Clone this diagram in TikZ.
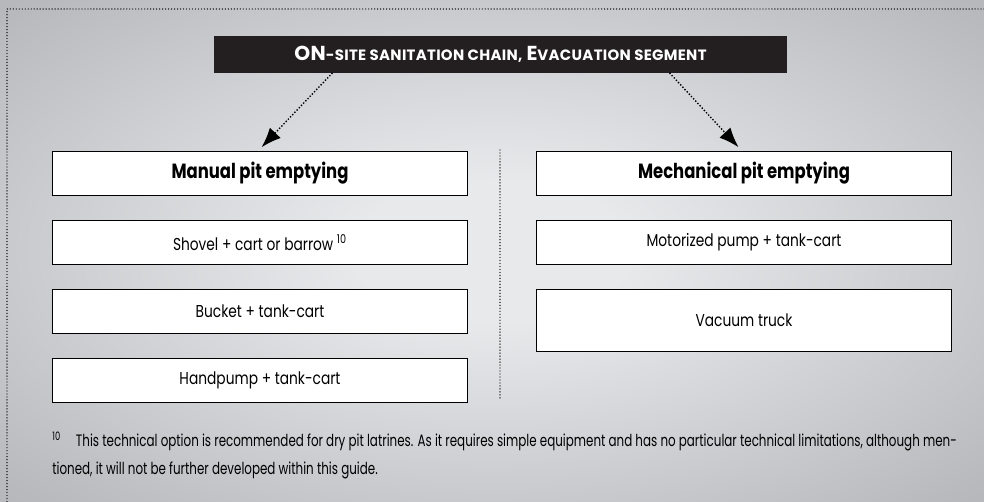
\documentclass[tikz,border=0pt]{standalone}
\usepackage{fontspec}
\setmainfont[FakeStretch=0.8]{Poppins}
\newfontfamily\titlefont[LetterSpace=2]{Poppins}
\newfontfamily\notefont[FakeStretch=0.72]{Poppins}
\usetikzlibrary{positioning,arrows.meta}

\definecolor{bglight}{HTML}{E8E9EB}
\definecolor{bgdark}{HTML}{A8A9AD}
\definecolor{titlebg}{HTML}{231F20}
\pgfdeclareradialshading{bgshade}{\pgfpoint{0bp}{0bp}}{color(0bp)=(bglight); color(7bp)=(bglight); color(34bp)=(bgdark!75!bglight); color(50bp)=(bgdark)}

\newcommand{\capbig}[1]{{\fontsize{11.5}{13}\selectfont #1}}
\newcommand{\capsmall}[1]{{\fontsize{8.5}{13}\selectfont #1}}

\begin{document}
\begin{tikzpicture}[x=0.02cm,y=-0.02cm,
    box/.style={draw=black,fill=white,line width=0.6pt,minimum width=8.32cm,minimum height=0.88cm,inner sep=0pt,font=\fontsize{9.8}{11}\selectfont},
    headbox/.style={box,font=\fontsize{11.7}{13}\selectfont\bfseries},
    arr/.style={line width=1.1pt,dash pattern=on 0pt off 1.8pt,line cap=round,shorten >=0.1cm,-{Latex[length=4mm,width=3mm]}},
    dotline/.style={line width=0.8pt,dash pattern=on 0pt off 1.7pt,line cap=round},
    note/.style={anchor=base west,inner sep=0pt,font=\notefont\fontsize{9.4}{11}\selectfont},
    node distance=0.48cm]
  \useasboundingbox (0,0) rectangle (984,502);
  \shade[shading=bgshade] (0,0) rectangle (984,502);
  \draw[dotline] (984,9) -- (7,9) -- (7,502);

  % title bar
  \node[fill=titlebg,text=white,minimum width=11.46cm,minimum height=0.74cm,inner sep=0pt,font=\titlefont\bfseries] (chain) at (500.5,54.5)
    {\capbig{ON}\capsmall{-SITE SANITATION CHAIN,} \capbig{E}\capsmall{VACUATION SEGMENT}};

  % manual column
  \node[headbox,anchor=north] (manual) at (260,151) {Manual pit emptying};
  \node[box,below=of manual] (shovel) {Shovel + cart or barrow \textsuperscript{10}};
  \node[box,below=of shovel] (bucket) {Bucket + tank-cart};
  \node[box,below=of bucket] (handpump) {Handpump + tank-cart};

  % mechanical column
  \node[headbox,anchor=north] (mech) at (744,151) {Mechanical pit emptying};
  \node[box,below=of mech] (motor) {Motorized pump + tank-cart};
  \node[box,below=of motor,minimum height=1.24cm] (vacuum) {Vacuum truck};

  \draw[dotline] (500,150) -- (500,398);

  \draw[arr] ([xshift=-3.37cm]chain.south) -- ([xshift=-0.04cm]manual.north);
  \draw[arr] ([xshift=3.39cm]chain.south) -- ([xshift=-0.04cm]mech.north);

  % footnote
  \node[note] (noteA) at (52,447) {\textsuperscript{10}\hspace{0.9em}This technical option is recommended for dry pit latrines. As it requires simple equipment and has no particular technical limitations, although men-};
  \node[note] (noteB) at (52,475) {tioned, it will not be further developed within this guide.};
\end{tikzpicture}
\end{document}
